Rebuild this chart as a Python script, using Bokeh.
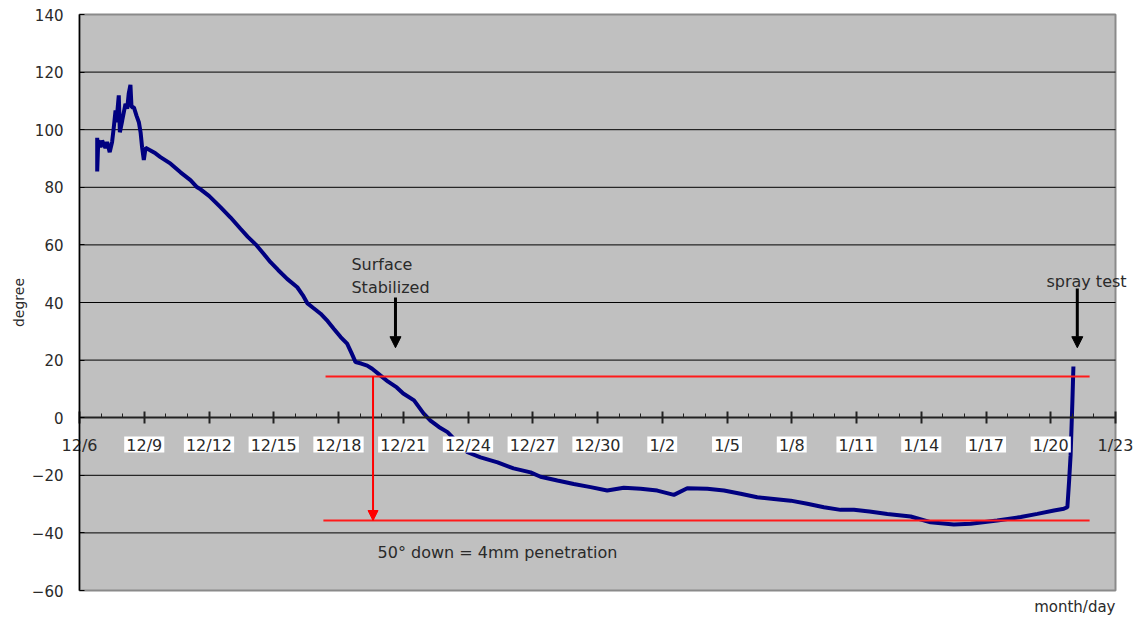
from bokeh.plotting import figure
from bokeh.models import Range1d, FixedTicker, Label, Arrow, NormalHead, LinearAxis
from bokeh.embed import file_html
from bokeh.resources import INLINE

# ---- data (x = days since 12/6) ----
tick_days = [0, 3, 6, 9, 12, 15, 18, 21, 24, 27, 30, 33, 36, 39, 42, 45, 48]
tick_labels = ["12/6", "12/9", "12/12", "12/15", "12/18", "12/21", "12/24", "12/27",
               "12/30", "1/2", "1/5", "1/8", "1/11", "1/14", "1/17", "1/20", "1/23"]
minor_days = list(range(0, 49))
y_ticks = [-60, -40, -20, 0, 20, 40, 60, 80, 100, 120, 140]
grid_levels = [-40, -20, 20, 40, 60, 80, 100, 120]
x_lim = [0, 48]
y_lim = [-60, 140]

days = [0.82, 0.82, 0.87, 0.97, 1.05, 1.2, 1.28, 1.4, 1.51, 1.59, 1.67, 1.71, 1.82, 1.87,
        1.98, 2.13, 2.21, 2.28, 2.36, 2.41, 2.52, 2.64, 2.75, 2.83, 2.9, 2.98, 3.06, 3.29,
        3.52, 3.75, 4.22, 4.68, 5.14, 5.45, 5.61, 6.0, 6.53, 7.0, 7.46, 7.8, 8.16, 8.5,
        8.85, 9.2, 9.62, 10.09, 10.35, 10.55, 10.85, 11.17, 11.5, 11.78, 12.1, 12.4, 12.6,
        12.79, 13.05, 13.33, 13.56, 13.95, 14.3, 14.7, 15.0, 15.5, 15.94, 16.26, 16.65,
        17.05, 17.5, 17.98, 18.58, 19.37, 20.11, 20.9, 21.36, 22.14, 22.9, 23.68, 24.45,
        25.22, 26.0, 26.77, 27.54, 28.16, 29.09, 29.86, 30.63, 31.4, 32.17, 32.95, 33.72,
        34.49, 35.26, 35.88, 36.6, 37.43, 38.51, 39.43, 40.51, 41.29, 42.52, 43.61, 44.38,
        45.15, 45.61, 45.77, 45.85, 45.92, 46.0, 46.05]
degrees = [97.2, 85.5, 96.3, 93.9, 96.2, 93.7, 95.7, 92.2, 95.7, 100.9, 106.7, 102.6, 111.9,
           99.1, 103.2, 109.0, 107.3, 112.5, 115.6, 107.8, 107.8, 104.9, 102.6, 99.1, 93.9,
           89.5, 93.7, 92.8, 91.8, 90.5, 88.2, 85.2, 82.5, 80.0, 79.3, 77.0, 73.1, 69.5, 65.6,
           62.8, 60.2, 57.2, 54.0, 51.3, 48.2, 45.3, 42.5, 39.8, 38.0, 36.1, 33.5, 30.9, 28.0,
           25.7, 22.5, 19.3, 18.8, 18.1, 17.0, 14.6, 12.5, 10.5, 8.4, 6.0, 1.5, -1.0, -3.2,
           -5.0, -8.5, -12.0, -13.8, -15.5, -17.6, -19.0, -20.5, -21.8, -23.0, -24.1, -25.3,
           -24.3, -24.7, -25.3, -26.8, -24.5, -24.7, -25.3, -26.4, -27.6, -28.2, -28.8, -29.9,
           -31.1, -32.0, -32.0, -32.6, -33.4, -34.3, -36.3, -37.1, -36.8, -35.7, -34.5, -33.4,
           -32.2, -31.6, -31.1, -22.0, -13.0, 5.0, 17.8]

ref_levels = [14.3, -35.7]
ref_start = [11.4, 11.3]
ref_end = [46.8, 46.8]

FONT = "DejaVu Sans"
TXT = "#2a2a2a"

# ---- layout: plot area at pixels x 79..1115, y 14..590 of a 1141x622 canvas ----
W, H = 1141, 622
PX_L, PX_R, PX_T, PX_B = 79, 1115, 14, 590
ppd = (PX_R - PX_L) / (x_lim[1] - x_lim[0])
ppv = (PX_B - PX_T) / (y_lim[1] - y_lim[0])
x_range = Range1d(x_lim[0] - PX_L / ppd, x_lim[1] + (W - PX_R) / ppd)
y_range = Range1d(y_lim[0] - (H - PX_B) / ppv, y_lim[1] + PX_T / ppv)

p = figure(width=W, height=H, x_range=x_range, y_range=y_range,
           output_backend="svg", toolbar_location=None,
           x_axis_location=None, y_axis_location=None,
           min_border=0, min_border_left=0, min_border_right=0,
           min_border_top=0, min_border_bottom=0,
           background_fill_color="white", border_fill_color="white")
p.outline_line_color = None
p.grid.visible = False

# plot area
p.quad(left=x_lim[0], right=x_lim[1], bottom=y_lim[0], top=y_lim[1],
       fill_color="#C0C0C0", line_color="#8a8a8a", line_width=2)
p.segment(x0=x_lim[0], x1=x_lim[1], y0=grid_levels, y1=grid_levels,
          line_color="black", line_width=1)

# y axis at x = 0
yaxis = LinearAxis(fixed_location=x_lim[0], bounds=(y_lim[0], y_lim[1]),
                   ticker=FixedTicker(ticks=y_ticks))
yaxis.axis_line_color = "black"
yaxis.axis_line_width = 1.5
yaxis.major_tick_in = 5
yaxis.major_tick_out = 0
yaxis.minor_tick_line_color = None
yaxis.major_tick_line_color = "black"
yaxis.major_label_text_font = FONT
yaxis.major_label_text_font_size = "15px"
yaxis.major_label_text_color = TXT
yaxis.major_label_standoff = 16
yaxis.axis_label = "degree"
yaxis.axis_label_text_font = FONT
yaxis.axis_label_text_font_size = "14px"
yaxis.axis_label_text_font_style = "normal"
yaxis.axis_label_text_color = TXT
yaxis.axis_label_standoff = 2
p.add_layout(yaxis, "left")

# series
p.line(days, degrees, line_color="#000080", line_width=4)

# white boxes behind the inner x tick labels
inner_days = tick_days[1:-1]
inner_w = [10.2 * (len(s) - 1) + 9.5 for s in tick_labels[1:-1]]
p.rect(x=inner_days, y=-9.3, width=inner_w, height=16, width_units="screen",
       height_units="screen", fill_color="white", line_color=None)

# x axis crossing at y = 0
xaxis = LinearAxis(fixed_location=0, bounds=(x_lim[0], x_lim[1]),
                   ticker=FixedTicker(ticks=tick_days, minor_ticks=minor_days))
xaxis.major_label_overrides = {d: lab for d, lab in zip(tick_days, tick_labels)}
xaxis.axis_line_color = "#222222"
xaxis.axis_line_width = 2
xaxis.major_tick_in = 6
xaxis.major_tick_out = 6
xaxis.major_tick_line_color = "#222222"
xaxis.major_tick_line_width = 2
xaxis.minor_tick_in = 4
xaxis.minor_tick_out = 0
xaxis.minor_tick_line_color = "#222222"
xaxis.minor_tick_line_width = 1
xaxis.major_label_text_font = FONT
xaxis.major_label_text_font_size = "16px"
xaxis.major_label_text_color = TXT
xaxis.major_label_standoff = 12
p.add_layout(xaxis, "below")

# red reference lines and arrow
p.segment(x0=ref_start, y0=ref_levels, x1=ref_end, y1=ref_levels,
          line_color="#ff1a1a", line_width=2)
p.add_layout(Arrow(end=NormalHead(size=10, fill_color="red", line_color="red"),
                   x_start=13.6, y_start=ref_levels[0], x_end=13.6, y_end=ref_levels[1],
                   line_color="red", line_width=2))

# black arrows
for xs, ys, ye in [(14.64, 41.7, 24.3), (46.23, 44.9, 24.3)]:
    p.add_layout(Arrow(end=NormalHead(size=11, fill_color="black", line_color="black"),
                       x_start=xs, y_start=ys, x_end=xs, y_end=ye,
                       line_color="black", line_width=3))

# annotation texts
notes = [(12.6, 53.2, "Surface"), (12.6, 45.2, "Stabilized"),
         (44.8, 47.3, "spray test"), (13.81, -46.8, "50° down = 4mm penetration")]
for x, y, t in notes:
    p.add_layout(Label(x=x, y=y, text=t, text_align="left", text_baseline="middle",
                       text_font=FONT, text_font_size="16px", text_color=TXT))

p.add_layout(Label(x=x_lim[1], y=-65.6, text="month/day", text_align="right",
                   text_baseline="middle", text_font=FONT, text_font_size="15px",
                   text_color=TXT))

open("out.html", "w").write(file_html(p, INLINE))
